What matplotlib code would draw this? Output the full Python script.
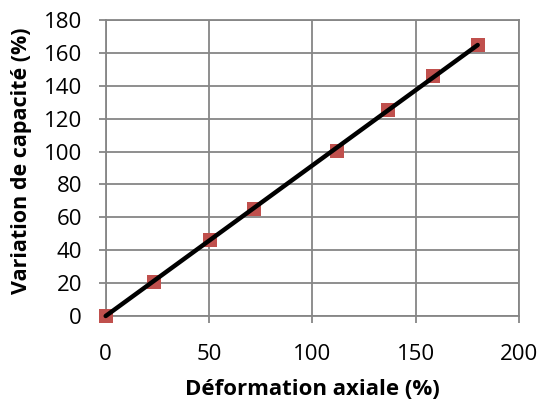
import matplotlib
matplotlib.use('Agg')
import matplotlib.pyplot as plt

plt.rcParams['font.family'] = ['Open Sans', 'DejaVu Sans']

# données mesurées
deformation = [0, 23.4, 50.5, 71.9, 111.9, 136.8, 158.2, 180.0]
capacite = [0, 20.9, 46.2, 64.9, 100.5, 125.3, 146.2, 164.8]

# droite de tendance (extrémités)
tendance_x = [0, 180]
tendance_y = [0, 164.8]

x_ticks = [0, 50, 100, 150, 200]
y_ticks = [0, 20, 40, 60, 80, 100, 120, 140, 160, 180]

fig = plt.figure(figsize=(5.44, 4.01), dpi=100)
ax = fig.add_axes([105.7 / 544, 1 - 316 / 401, (519 - 105.7) / 544, (316 - 20) / 401])

ax.plot(deformation, capacite, linestyle='none', marker='s', markersize=10.5,
        color='#C0504D', markeredgewidth=0, zorder=3, clip_on=False)
ax.plot(tendance_x, tendance_y, color='black', linewidth=3.2, zorder=4,
        solid_capstyle='round', clip_on=False)

ax.set_xlim(0, 200)
ax.set_ylim(0, 180)
ax.set_xticks(x_ticks)
ax.set_yticks(y_ticks)
ax.grid(True, color='#868686', linewidth=1.3)
ax.set_axisbelow(True)
for s in ax.spines.values():
    s.set_color('#868686')
    s.set_linewidth(1.3)
ax.tick_params(direction='out', length=5, width=1.3, color='#868686',
               labelsize=16)
ax.tick_params(axis='y', pad=12)
ax.tick_params(axis='x', pad=15)

ax.set_xlabel('Déformation axiale (%)', fontsize=16, fontweight='bold')
ax.set_ylabel('Variation de capacité (%)', fontsize=15.5, fontweight='bold')
ax.xaxis.set_label_coords(0.5, -0.212)
ax.yaxis.set_label_coords(-0.178, 0.524)

fig.savefig('out.png', dpi=100)
